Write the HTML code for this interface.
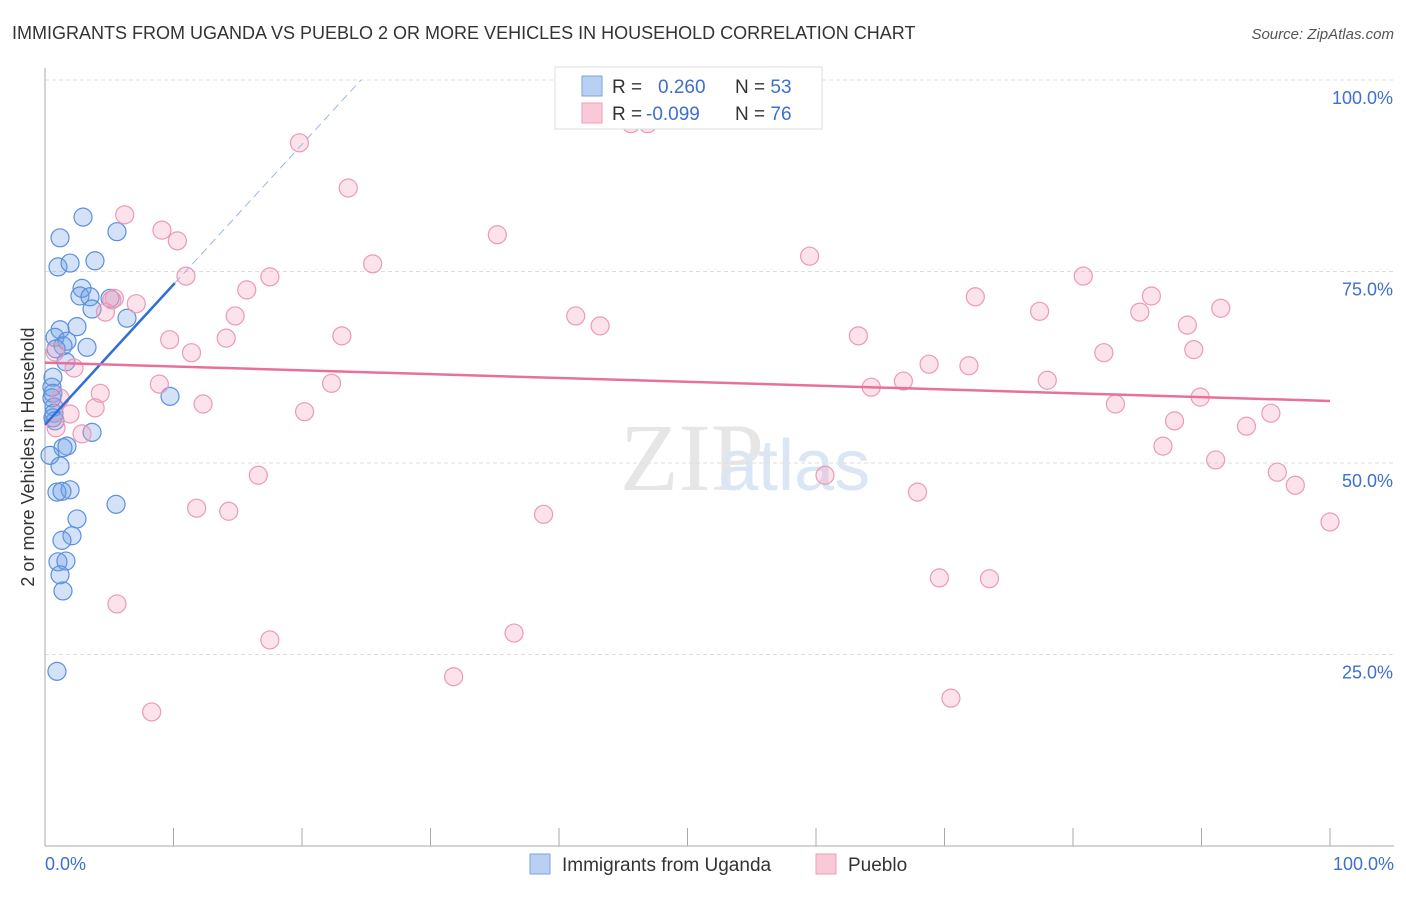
<!DOCTYPE html>
<html><head><meta charset="utf-8"><style>
body{margin:0;background:#fff;font-family:"Liberation Sans",sans-serif;}
</style></head><body>
<svg id="chart" width="1406" height="892" xmlns="http://www.w3.org/2000/svg" font-family="Liberation Sans, sans-serif">
<text x="12" y="39" font-size="18" fill="#333">IMMIGRANTS FROM UGANDA VS PUEBLO 2 OR MORE VEHICLES IN HOUSEHOLD CORRELATION CHART</text>
<text x="1394" y="39" font-size="15" fill="#555" font-style="italic" text-anchor="end">Source: ZipAtlas.com</text>
<text x="620" y="490" font-size="96" fill="#e6e6e6" font-family="Liberation Serif, serif">ZIP</text>
<text x="718" y="490" font-size="72" fill="#dbe6f5">atlas</text>
<g id="grid"></g>
<g id="axes"></g>
<g id="pts"></g>
<g id="lines"></g>
<text transform="translate(34,457) rotate(-90)" font-size="18" fill="#333" text-anchor="middle">2 or more Vehicles in Household</text>
<text x="45" y="870" font-size="18" fill="#3d6fcf">0.0%</text>
<text x="1394" y="870" font-size="18" fill="#3d6fcf" text-anchor="end">100.0%</text>
<g>
<rect x="555" y="67" width="267" height="62" fill="#fff" stroke="#ddd"/>
<rect x="582" y="76" width="20" height="20" fill="#b9d0f3" stroke="#7aa3e6"/>
<rect x="582" y="103" width="20" height="20" fill="#f9c9d7" stroke="#ee9fb8"/>
<text x="612" y="93" font-size="19" fill="#333">R = <tspan fill="#3d6fcf" x="658">0.260</tspan><tspan x="735" fill="#333">N = </tspan><tspan fill="#3d6fcf">53</tspan></text>
<text x="612" y="120" font-size="19" fill="#333">R = <tspan fill="#3d6fcf" x="646">-0.099</tspan><tspan x="735" fill="#333">N = </tspan><tspan fill="#3d6fcf">76</tspan></text>
</g>
<g>
<rect x="530" y="854" width="20" height="20" fill="#b9d0f3" stroke="#7aa3e6"/>
<text x="562" y="871" font-size="19" fill="#333">Immigrants from Uganda</text>
<rect x="816" y="854" width="20" height="20" fill="#f9c9d7" stroke="#ee9fb8"/>
<text x="848" y="871" font-size="19" fill="#333">Pueblo</text>
</g>
</svg>
<script>
const yTicks=[25,50,75,100];
const yTickLabels=["25.0%","50.0%","75.0%","100.0%"];
const xTicks=[0,10,20,30,40,50,60,70,80,90,100];
const ugandaX=[2.96,1.17,5.6,1.01,1.95,3.89,2.88,2.72,3.5,5.06,6.38,3.66,1.17,2.49,0.78,1.71,1.4,3.27,0.86,1.63,0.62,0.54,0.62,0.54,0.7,0.7,0.62,9.73,0.78,3.66,1.71,1.4,0.39,1.17,1.95,0.93,1.32,5.53,2.49,2.1,1.32,1.01,1.63,1.17,1.4,0.93];
const ugandaY=[82.1,79.4,80.2,75.6,76.1,76.4,72.8,71.8,71.7,71.5,68.9,70.1,67.4,67.8,66.4,65.9,65.3,65.1,64.9,63.2,61.2,59.9,59.1,58.5,57.3,56.5,55.9,58.7,55.5,54.0,52.2,52.0,51.0,49.6,46.5,46.2,46.3,44.6,42.7,40.5,39.9,37.1,37.2,35.4,33.3,22.8];
const puebloX=[19.8,23.6,6.2,9.1,10.3,35.2,45.6,46.9,25.5,59.5,10.97,17.5,15.7,5.4,5.2,7.1,4.7,14.8,41.3,43.2,72.4,80.8,77.4,86.1,85.2,91.5,88.9,9.7,14.1,23.1,63.3,11.4,0.78,82.4,89.4,68.8,71.9,2.26,8.9,22.3,64.3,66.8,78.0,4.3,89.9,1.17,12.3,83.3,3.9,20.2,1.95,95.4,87.9,93.5,2.88,0.86,87.0,91.1,16.6,60.7,95.9,97.3,67.9,11.8,14.3,38.8,100,5.6,69.6,73.5,17.5,36.5,31.8,70.5,8.3];
const puebloY=[91.8,85.9,82.4,80.4,79.0,79.8,94.3,94.3,76.0,77.0,74.4,74.3,72.6,71.5,71.3,70.8,69.7,69.2,69.2,67.9,71.7,74.4,69.8,71.8,69.7,70.2,68.0,66.1,66.3,66.6,66.6,64.4,64.5,64.4,64.8,62.9,62.7,62.4,60.3,60.4,59.9,60.7,60.8,59.1,58.6,58.5,57.7,57.7,57.2,56.7,56.4,56.5,55.5,54.8,53.8,54.6,52.2,50.4,48.4,48.4,48.8,47.1,46.2,44.1,43.7,43.3,42.3,31.6,35.0,34.9,26.9,27.8,22.1,19.3,17.5];
const ugandaTrend=[55.0,1.83]; // intercept, slope
const puebloTrend=[63.1,58.1]; // y at x=0, y at x=100
const X=v=>45+v*12.85, Y=v=>846-v*7.66;
const NS="http://www.w3.org/2000/svg";
function mk(tag,attrs,parent){const e=document.createElementNS(NS,tag);for(const k in attrs)e.setAttribute(k,attrs[k]);document.getElementById(parent).appendChild(e);return e;}
yTicks.forEach((t,i)=>{
 const l=mk('line',{x1:45,x2:1394,y1:Y(t),y2:Y(t),stroke:'#ddd','stroke-dasharray':'4,3'},'grid');
 
 
 const tx=mk('text',{x:1393,y:Y(t)+24,'font-size':18,fill:'#3d6fcf','text-anchor':'end'},'grid');
 tx.textContent=yTickLabels[i];
 
 
});
const ax=mk('line',{x1:45,x2:45,y1:68,y2:846,stroke:'#aaa'},'axes');


const bx=mk('line',{x1:45,x2:1394,y1:846,y2:846,stroke:'#aaa'},'axes');


xTicks.forEach(t=>{const l=mk('line',{x1:X(t),x2:X(t),y1:828,y2:846,stroke:'#aaa'},'axes');
 
 });
ugandaX.forEach((v,i)=>{const c=mk('circle',{cx:X(v),cy:Y(ugandaY[i]),r:9,fill:'rgba(110,160,230,0.3)',stroke:'#5b8fe0','stroke-width':1.2},'pts');
 
 });
puebloX.forEach((v,i)=>{const c=mk('circle',{cx:X(v),cy:Y(puebloY[i]),r:9,fill:'rgba(245,160,190,0.3)',stroke:'#ea9ab6','stroke-width':1.2},'pts');
 
 });
const xEnd=(100-ugandaTrend[0])/ugandaTrend[1];
const l1=mk('line',{x1:X(0),y1:Y(ugandaTrend[0]),x2:X(10.1),y2:Y(ugandaTrend[0]+ugandaTrend[1]*10.1),stroke:'#2f6fd6','stroke-width':2.5},'lines');


const l2=mk('line',{x1:X(10.1),y1:Y(ugandaTrend[0]+ugandaTrend[1]*10.1),x2:X(xEnd),y2:Y(100),stroke:'#9bb5e6','stroke-width':1,'stroke-dasharray':'8,5'},'lines');


const l3=mk('line',{x1:X(0),y1:Y(puebloTrend[0]),x2:X(100),y2:Y(puebloTrend[1]),stroke:'#e8709a','stroke-width':2.5},'lines');


</script>
</body></html>
